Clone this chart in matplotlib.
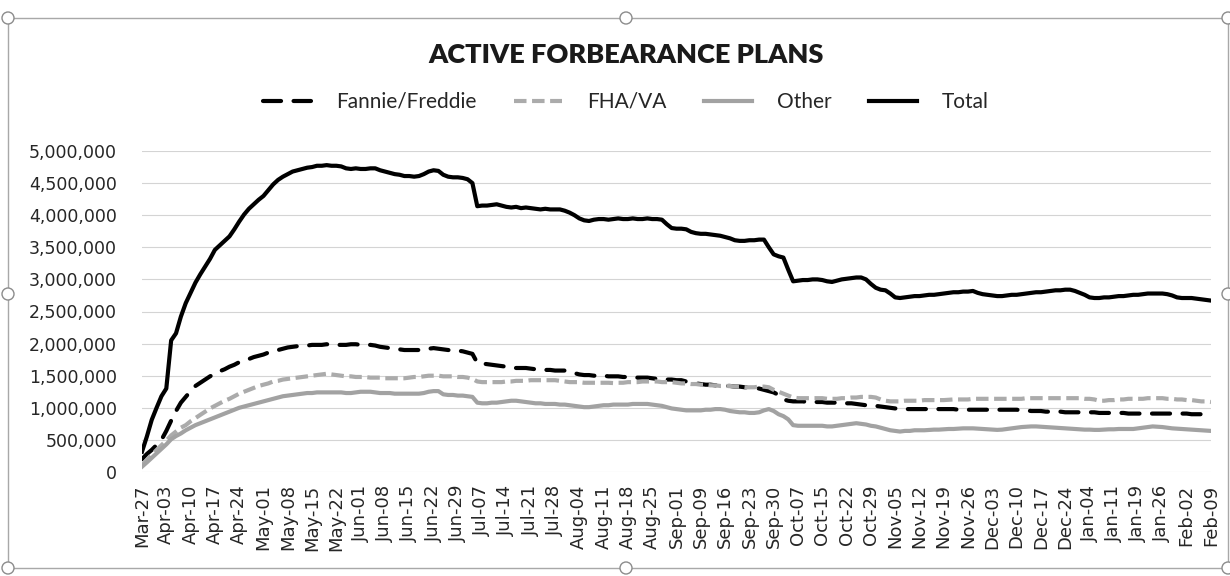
import matplotlib
matplotlib.use("Agg")
import matplotlib.pyplot as plt
from matplotlib.patches import Rectangle, Circle
from matplotlib.ticker import FuncFormatter, FixedLocator

# ---------------- data (thousands of loans, one value per business day) ----------------
tick_labels = ["Mar-27", "Apr-03", "Apr-10", "Apr-17", "Apr-24", "May-01", "May-08", "May-15",
               "May-22", "Jun-01", "Jun-08", "Jun-15", "Jun-22", "Jun-29", "Jul-07", "Jul-14",
               "Jul-21", "Jul-28", "Aug-04", "Aug-11", "Aug-18", "Aug-25", "Sep-01", "Sep-09",
               "Sep-16", "Sep-23", "Sep-30", "Oct-07", "Oct-15", "Oct-22", "Oct-29", "Nov-05",
               "Nov-12", "Nov-19", "Nov-26", "Dec-03", "Dec-10", "Dec-17", "Dec-24", "Jan-04",
               "Jan-11", "Jan-19", "Jan-26", "Feb-02", "Feb-09"]

total = [
    317, 552, 812, 1000, 1180, 1300, 2050, 2160, 2420, 2630,
    2790, 2950, 3080, 3200, 3320, 3460, 3530, 3600, 3670, 3780,
    3900, 4010, 4100, 4170, 4240, 4300, 4390, 4480, 4550, 4600,
    4640, 4680, 4700, 4720, 4740, 4750, 4770, 4770, 4780, 4770,
    4770, 4760, 4730, 4720, 4730, 4720, 4720, 4730, 4730, 4700,
    4680, 4660, 4640, 4630, 4610, 4610, 4600, 4610, 4640, 4680,
    4700, 4690, 4630, 4600, 4590, 4590, 4580, 4560, 4500, 4140,
    4150, 4150, 4160, 4170, 4150, 4130, 4120, 4130, 4110, 4120,
    4110, 4100, 4090, 4100, 4090, 4090, 4090, 4070, 4040, 4000,
    3950, 3920, 3910, 3930, 3940, 3940, 3930, 3940, 3950, 3940,
    3940, 3950, 3940, 3940, 3950, 3940, 3940, 3930, 3860, 3800,
    3790, 3790, 3780, 3740, 3720, 3710, 3710, 3700, 3690, 3680,
    3660, 3640, 3610, 3600, 3600, 3610, 3610, 3620, 3620, 3500,
    3390, 3360, 3340, 3150, 2970, 2980, 2990, 2990, 3000, 3000,
    2990, 2970, 2960, 2980, 3000, 3010, 3020, 3030, 3030, 3000,
    2930, 2870, 2840, 2830, 2780, 2720, 2710, 2720, 2730, 2740,
    2740, 2750, 2760, 2760, 2770, 2780, 2790, 2800, 2800, 2810,
    2810, 2820, 2790, 2770, 2760, 2750, 2740, 2740, 2750, 2760,
    2760, 2770, 2780, 2790, 2800, 2800, 2810, 2820, 2830, 2830,
    2840, 2840, 2820, 2790, 2760, 2720, 2710, 2710, 2720, 2720,
    2730, 2740, 2740, 2750, 2760, 2760, 2770, 2780, 2780, 2780,
    2780, 2770, 2750, 2720, 2710, 2710, 2710, 2700, 2690, 2680, 2670]

fannie_freddie = [
    200, 280, 344, 420, 500, 640, 800, 950, 1080, 1170,
    1260, 1340, 1390, 1440, 1490, 1530, 1570, 1600, 1640, 1670,
    1710, 1740, 1760, 1790, 1810, 1830, 1860, 1880, 1900, 1920,
    1940, 1950, 1960, 1970, 1970, 1980, 1980, 1980, 1990, 1980,
    1980, 1980, 1980, 1990, 1990, 1980, 1980, 1980, 1970, 1950,
    1940, 1930, 1920, 1910, 1900, 1900, 1900, 1900, 1900, 1920,
    1930, 1920, 1910, 1900, 1890, 1890, 1880, 1860, 1840, 1700,
    1690, 1680, 1670, 1660, 1650, 1640, 1630, 1620, 1620, 1620,
    1610, 1600, 1600, 1590, 1590, 1580, 1580, 1580, 1560, 1540,
    1520, 1510, 1510, 1500, 1500, 1500, 1490, 1490, 1490, 1480,
    1480, 1480, 1470, 1470, 1470, 1460, 1450, 1440, 1440, 1440,
    1430, 1430, 1410, 1390, 1380, 1370, 1360, 1360, 1350, 1350,
    1340, 1340, 1330, 1330, 1320, 1320, 1310, 1300, 1280, 1260,
    1240, 1200, 1130, 1110, 1100, 1100, 1100, 1090, 1090, 1090,
    1090, 1080, 1080, 1080, 1080, 1070, 1070, 1060, 1050, 1040,
    1040, 1030, 1020, 1010, 1000, 990, 990, 980, 980, 980,
    980, 980, 980, 980, 980, 980, 980, 980, 970, 970,
    970, 970, 970, 970, 970, 970, 970, 970, 970, 970,
    970, 960, 960, 950, 950, 950, 940, 940, 940, 940,
    930, 930, 930, 930, 930, 930, 930, 920, 920, 920,
    920, 920, 920, 910, 910, 910, 910, 910, 910, 910,
    910, 910, 910, 910, 910, 910, 900, 900, 900, 900, 900]

fha_va = [
    109, 190, 270, 344, 420, 490, 570, 630, 690, 730,
    790, 840, 890, 940, 990, 1030, 1070, 1110, 1140, 1180,
    1220, 1250, 1280, 1310, 1340, 1360, 1380, 1410, 1420, 1440,
    1450, 1460, 1470, 1480, 1490, 1500, 1510, 1520, 1530, 1520,
    1510, 1500, 1490, 1490, 1480, 1480, 1480, 1470, 1470, 1470,
    1460, 1460, 1460, 1460, 1460, 1470, 1480, 1480, 1490, 1500,
    1500, 1500, 1490, 1490, 1490, 1480, 1480, 1470, 1450, 1410,
    1400, 1400, 1400, 1400, 1400, 1410, 1410, 1420, 1420, 1420,
    1430, 1430, 1430, 1430, 1430, 1430, 1420, 1410, 1400, 1400,
    1400, 1390, 1390, 1390, 1390, 1390, 1390, 1385, 1390, 1390,
    1400, 1400, 1400, 1410, 1410, 1410, 1410, 1400, 1400, 1400,
    1390, 1380, 1380, 1370, 1370, 1360, 1360, 1350, 1350, 1340,
    1340, 1340, 1330, 1330, 1320, 1320, 1320, 1330, 1330, 1320,
    1280, 1250, 1220, 1190, 1160, 1150, 1150, 1150, 1150, 1150,
    1150, 1140, 1140, 1140, 1150, 1150, 1160, 1160, 1170, 1170,
    1170, 1160, 1130, 1110, 1100, 1100, 1100, 1110, 1110, 1110,
    1110, 1120, 1120, 1120, 1120, 1120, 1125, 1130, 1130, 1130,
    1130, 1140, 1140, 1140, 1140, 1140, 1140, 1140, 1140, 1140,
    1140, 1140, 1150, 1150, 1150, 1150, 1150, 1150, 1150, 1150,
    1150, 1150, 1150, 1150, 1140, 1140, 1130, 1110, 1110, 1120,
    1120, 1130, 1130, 1140, 1140, 1140, 1140, 1150, 1150, 1150,
    1150, 1140, 1140, 1130, 1130, 1120, 1120, 1110, 1100, 1100, 1090]

other = [
    83, 150, 220, 292, 360, 430, 510, 560, 600, 650,
    690, 730, 760, 790, 820, 850, 880, 910, 940, 970,
    1000, 1020, 1040, 1060, 1080, 1100, 1120, 1140, 1160, 1180,
    1190, 1200, 1210, 1220, 1230, 1230, 1240, 1240, 1240, 1240,
    1240, 1240, 1230, 1230, 1240, 1250, 1250, 1250, 1240, 1230,
    1230, 1230, 1220, 1220, 1220, 1220, 1220, 1220, 1230, 1250,
    1260, 1260, 1210, 1200, 1200, 1190, 1190, 1180, 1170, 1080,
    1070, 1070, 1080, 1080, 1090, 1100, 1110, 1110, 1100, 1090,
    1080, 1070, 1070, 1060, 1060, 1060, 1050, 1050, 1040, 1030,
    1020, 1010, 1010, 1020, 1030, 1040, 1040, 1050, 1050, 1050,
    1050, 1060, 1060, 1060, 1060, 1050, 1040, 1030, 1010, 990,
    980, 970, 960, 960, 960, 960, 970, 970, 980, 980,
    970, 950, 940, 930, 930, 920, 920, 930, 960, 980,
    950, 900, 870, 820, 730, 720, 720, 720, 720, 720,
    720, 710, 710, 720, 730, 740, 750, 760, 750, 740,
    720, 710, 690, 670, 650, 640, 630, 640, 640, 650,
    650, 650, 655, 660, 660, 665, 670, 670, 675, 680,
    680, 680, 675, 670, 665, 660, 656, 660, 670, 680,
    690, 700, 705, 710, 710, 705, 700, 695, 690, 685,
    680, 675, 670, 665, 660, 660, 656, 656, 660, 665,
    665, 670, 670, 670, 670, 680, 690, 700, 710, 705,
    700, 690, 680, 675, 670, 665, 660, 655, 650, 645, 640]

series_names = ["Fannie/Freddie", "FHA/VA", "Other", "Total"]
# --------------------------------------------------------------------------------------

plt.rcParams["lines.scale_dashes"] = False

W, H = 1230, 576
fig = plt.figure(figsize=(W / 100, H / 100), dpi=100)
fig.patch.set_facecolor("white")

ax = fig.add_axes([142 / W, 1 - 472 / H, (1211 - 142) / W, (472 - 151) / H])

x = list(range(len(total)))
scale = 1000
l_ff, = ax.plot(x, [v * scale for v in fannie_freddie], color="black", lw=3.0,
                dashes=(13, 9), solid_capstyle="round", dash_capstyle="round")
l_fv, = ax.plot(x, [v * scale for v in fha_va], color="#ababab", lw=3.0,
                dashes=(9, 4), dash_capstyle="butt")
l_ot, = ax.plot(x, [v * scale for v in other], color="#a2a2a2", lw=3.0)
l_tot, = ax.plot(x, [v * scale for v in total], color="black", lw=3.0)

ax.set_xlim(0, len(total) - 1)
ax.set_ylim(0, 5_000_000)
ax.set_yticks(range(0, 5_000_001, 500_000))
ax.yaxis.set_major_formatter(FuncFormatter(lambda v, p: f"{int(v):,}"))
ax.xaxis.set_major_locator(FixedLocator(list(range(0, len(total), 5))))
ax.set_xticklabels(tick_labels, rotation=90, fontsize=13, color="#262626")
for t in ax.get_yticklabels():
    t.set_fontsize(12.5)
    t.set_color("#262626")
ax.tick_params(axis="both", length=0)
ax.tick_params(axis="y", pad=18)
ax.tick_params(axis="x", pad=9)
ax.grid(axis="y", color="#d4d4d4", lw=0.8)
ax.set_axisbelow(True)
for s in ax.spines.values():
    s.set_visible(False)

fig.text(626 / W, 1 - 55 / H, "ACTIVE FORBEARANCE PLANS", ha="center", va="center",
         fontsize=19.5, fontweight="heavy", family="Lato", color="#1a1a1a")

leg = fig.legend([l_ff, l_fv, l_ot, l_tot], series_names, loc="center",
                 bbox_to_anchor=(626 / W, 1 - 102 / H), ncol=4, frameon=False,
                 prop={"family": "Lato", "size": 15}, handlelength=2.3,
                 columnspacing=1.8, handletextpad=1.2)
for t in leg.get_texts():
    t.set_color("#262626")

# chart frame with selection handles
fig.add_artist(Rectangle((8 / W, 1 - 568 / H), (1228 - 8) / W, (568 - 18) / H,
                         transform=fig.transFigure, fill=False, ec="#a8a8a8", lw=1.0))
for (hx, hy) in [(8, 18), (626, 18), (1228, 18), (8, 294), (1228, 294),
                 (8, 568), (626, 568), (1228, 568)]:
    fig.add_artist(Circle((hx, H - hy), 6, transform=None, fc="white", ec="#8c8c8c", lw=1.0))

fig.savefig("out.png", dpi=100, facecolor="white")
